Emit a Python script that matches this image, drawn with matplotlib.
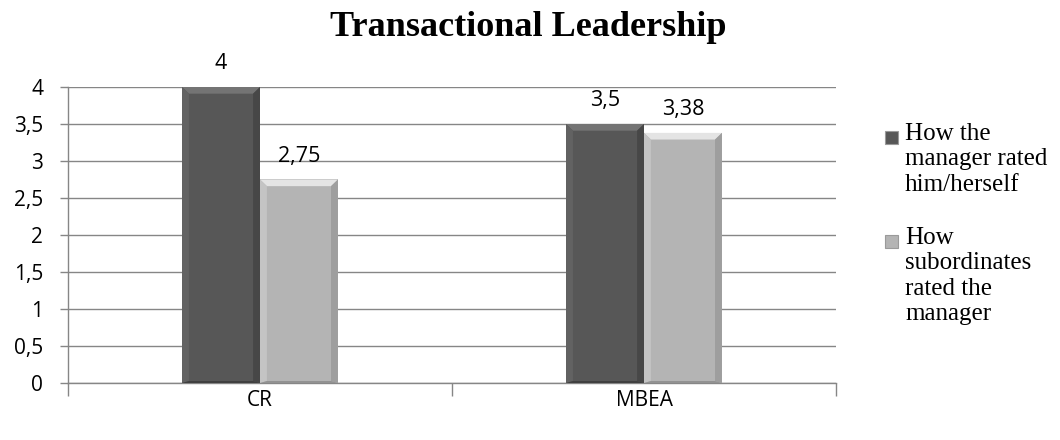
import matplotlib.pyplot as plt
import numpy as np
from matplotlib.patches import Rectangle, Polygon

categories = ['CR', 'MBEA']
manager_self = [4, 3.5]
subordinates = [2.75, 3.38]
series_names = ['How the\nmanager rated\nhim/herself',
                'How\nsubordinates\nrated the\nmanager']
yticks = [0, 0.5, 1, 1.5, 2, 2.5, 3, 3.5, 4]

dark = '#575757'
light = '#b4b4b4'
grid_c = '#868686'
# bevel shades: top, left, right, bottom
dark_bevel = ['#747474', '#626262', '#474747', '#404040']
light_bevel = ['#e4e4e4', '#c4c4c4', '#9e9e9e', '#929292']

fig = plt.figure(figsize=(10.6, 4.4), dpi=100)
ax = fig.add_axes([68/1060, 1-383/440, 768/1060, 296/440])

x = np.arange(len(categories))
w = 0.203
b1 = ax.bar(x - w/2, manager_self, w, color=dark, linewidth=0, zorder=3)
b2 = ax.bar(x + w/2, subordinates, w, color=light, linewidth=0, zorder=3)

# bevel look, drawn from each bar's own rectangle
bx, by = 0.018, 0.09
for bars, shades in ((b1, dark_bevel), (b2, light_bevel)):
    for r in bars:
        x0, x1 = r.get_x(), r.get_x() + r.get_width()
        y0, y1 = 0, r.get_height()
        top = [(x0, y1), (x1, y1), (x1-bx, y1-by), (x0+bx, y1-by)]
        left = [(x0, y0), (x0, y1), (x0+bx, y1-by), (x0+bx, y0+by*0.3)]
        right = [(x1, y0), (x1, y1), (x1-bx, y1-by), (x1-bx, y0+by*0.3)]
        bot = [(x0, y0), (x1, y0), (x1-bx, y0+by*0.3), (x0+bx, y0+by*0.3)]
        for pts, c in zip((top, left, right, bot), shades):
            ax.add_patch(Polygon(pts, closed=True, facecolor=c, lw=0, zorder=4))

def fmt(v):
    return ('%g' % v).replace('.', ',')

for bars, vals in ((b1, manager_self), (b2, subordinates)):
    for r, v in zip(bars, vals):
        ax.text(r.get_x()+r.get_width()/2, v+0.17, fmt(v), ha='center', va='bottom',
                fontsize=15.5, family='Open Sans', color='black')

ax.set_xlim(-0.5, 1.5)
ax.set_ylim(0, 4)
ax.set_yticks(yticks)
ax.set_yticklabels([fmt(t) for t in yticks], fontsize=15, family='Open Sans')
ax.yaxis.grid(True, color=grid_c, linewidth=1, zorder=0)
ax.set_xticks(x)
ax.set_xticklabels(categories, fontsize=15, family='Open Sans')
ax.tick_params(axis='x', length=0, pad=5)
ax.tick_params(axis='y', length=6, color=grid_c, width=1, pad=12)
ax.set_xticks([-0.5, 0.5, 1.5], minor=True)
ax.tick_params(axis='x', which='minor', length=9, color=grid_c, width=1)
for s in ('top', 'right'):
    ax.spines[s].set_visible(False)
for s in ('left', 'bottom'):
    ax.spines[s].set_color(grid_c)
    ax.spines[s].set_linewidth(1)

fig.text(528/1060, 1-28/440, 'Transactional Leadership', ha='center', va='center',
         fontsize=26, fontweight='bold', family='Liberation Serif')

# legend
leg_top = [128, 232]
for col, name, yy in zip((dark, light), series_names, leg_top):
    fig.patches.append(Rectangle((885/1060, 1-(yy+16)/440), 13/1060, 13/440,
                                 transform=fig.transFigure, facecolor=col,
                                 edgecolor='#9a9a9a', lw=0.8))
    fig.text(905/1060, 1-(yy-5)/440, name, ha='left', va='top', fontsize=18,
             family='Liberation Serif', linespacing=1.2)

fig.savefig('out.png', dpi=100)
